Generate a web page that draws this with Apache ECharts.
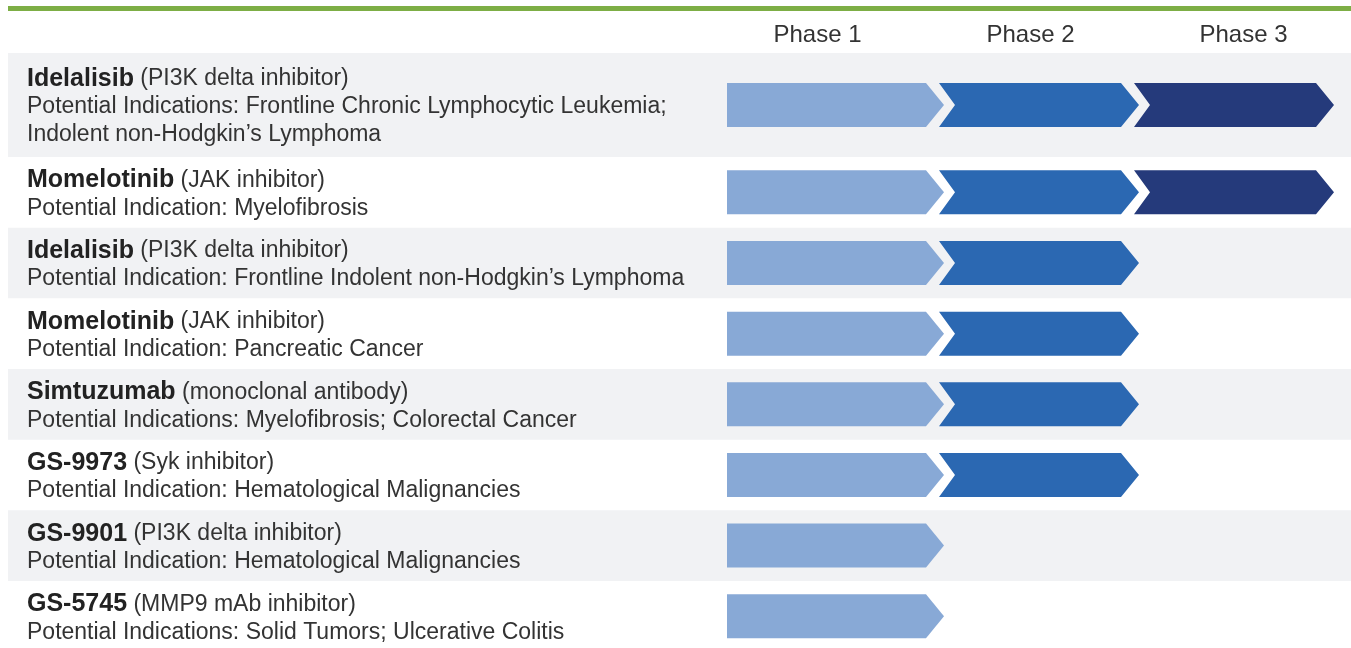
<!DOCTYPE html>
<html>
<head>
<meta charset="utf-8">
<script src="https://cdn.jsdelivr.net/npm/echarts@6/dist/echarts.min.js"></script>
<style>
  html, body { margin: 0; padding: 0; background: #fff; }
  #main { width: 1351px; height: 648px; }
</style>
</head>
<body>
<div id="main"></div>
<script>
  // pipeline data
  var phases = ['Phase 1', 'Phase 2', 'Phase 3'];
  var drugs = ['Idelalisib', 'Momelotinib', 'Idelalisib', 'Momelotinib', 'Simtuzumab', 'GS-9973', 'GS-9901', 'GS-5745'];
  var classes = ['(PI3K delta inhibitor)', '(JAK inhibitor)', '(PI3K delta inhibitor)', '(JAK inhibitor)',
    '(monoclonal antibody)', '(Syk inhibitor)', '(PI3K delta inhibitor)', '(MMP9 mAb inhibitor)'];
  var indications = [
    'Potential Indications: Frontline Chronic Lymphocytic Leukemia;\nIndolent non-Hodgkin’s Lymphoma',
    'Potential Indication: Myelofibrosis',
    'Potential Indication: Frontline Indolent non-Hodgkin’s Lymphoma',
    'Potential Indication: Pancreatic Cancer',
    'Potential Indications: Myelofibrosis; Colorectal Cancer',
    'Potential Indication: Hematological Malignancies',
    'Potential Indication: Hematological Malignancies',
    'Potential Indications: Solid Tumors; Ulcerative Colitis'
  ];
  var phaseReached = [3, 3, 2, 2, 2, 2, 1, 1];

  var phaseColors = ['#88A9D6', '#2B68B2', '#253A7B'];
  var UNIT_PX = 33.33;   // px per text line unit
  var ROW_PAD = 0.12;
  var GRID_TOP = 53, GRID_H = 595;   // visible part only, last row runs off the page

  // row extents in line units
  var rowStart = [], rowEnd = [], total = 0;
  indications.forEach(function (txt) {
    var lines = 1 + txt.split('\n').length;
    rowStart.push(total);
    total += lines + ROW_PAD;
    rowEnd.push(total);
  });
  var yMax = GRID_H / UNIT_PX;

  var bgData = [], textData = [], arrowData = [];
  drugs.forEach(function (d, i) {
    bgData.push([rowStart[i], rowEnd[i], i]);
    textData.push([0, (rowStart[i] + rowEnd[i]) / 2, i]);
    for (var p = 1; p <= phaseReached[i]; p++) {
      arrowData.push([p, (rowStart[i] + rowEnd[i]) / 2, i]);
    }
  });

  var chart = echarts.init(document.getElementById('main'));
  var FONT = '"Liberation Sans", Arial, Helvetica, sans-serif';

  chart.setOption({
    animation: false,
    graphic: [{
      type: 'rect', left: 8, top: 6,
      shape: { width: 1343, height: 5 },
      style: { fill: '#7DAE45' }
    }],
    grid: [
      { left: 749, width: 585, top: GRID_TOP, height: GRID_H },
      { left: 711, right: 1, top: GRID_TOP, height: GRID_H }
    ],
    xAxis: [
      { type: 'value', gridIndex: 0, min: 0, max: 3, show: false },
      {
        type: 'category', gridIndex: 1, position: 'top', data: phases,
        axisLine: { show: false }, axisTick: { show: false }, splitLine: { show: false },
        axisLabel: { color: '#333', fontSize: 24, fontFamily: FONT, margin: 6 }
      }
    ],
    yAxis: [
      { type: 'value', gridIndex: 0, min: 0, max: yMax, inverse: true, show: false },
      { type: 'value', gridIndex: 1, min: 0, max: yMax, inverse: true, show: false }
    ],
    series: [
      {
        // alternating row shading
        type: 'custom',
        xAxisIndex: 0, yAxisIndex: 0,
        data: bgData,
        renderItem: function (params, api) {
          if (api.value(2) % 2 === 1) return null;
          var y0 = api.coord([0, api.value(0)])[1];
          var y1 = api.coord([0, api.value(1)])[1];
          return {
            type: 'rect',
            shape: { x: 8, y: y0, width: api.getWidth() - 8, height: y1 - y0 },
            style: { fill: '#F1F2F4' }
          };
        },
        z: 1
      },
      {
        // drug names + indications
        type: 'custom',
        xAxisIndex: 0, yAxisIndex: 0,
        data: textData,
        renderItem: function (params, api) {
          var i = api.value(2);
          var yc = api.coord([0, api.value(1)])[1];
          var lines = indications[i].split('\n').map(function (l) { return '{r|' + l + '}'; });
          return {
            type: 'text',
            x: 27, y: yc + 2,
            style: {
              text: '{b|' + drugs[i] + '}{r| ' + classes[i] + '}\n' + lines.join('\n'),
              align: 'left',
              verticalAlign: 'middle',
              fill: '#2b2b2b',
              fontFamily: FONT,
              rich: {
                b: { fontSize: 25, fontWeight: 'bold', fontFamily: FONT, lineHeight: 28, fill: '#222' },
                r: { fontSize: 23, fontFamily: FONT, lineHeight: 28, fill: '#333' }
              }
            }
          };
        },
        z: 3
      },
      {
        // phase chevrons
        type: 'custom',
        xAxisIndex: 0, yAxisIndex: 0,
        data: arrowData,
        renderItem: function (params, api) {
          var p = api.value(0);
          var c = api.coord([p, api.value(1)]);
          var tipX = c[0], yc = c[1];
          var len = 200, tip = 18, half = 22, notch = 16;
          var corner = tipX - len;
          var pts;
          if (p === 1) {
            var left = corner - tip + 1;
            pts = [[left, yc - half], [tipX - tip, yc - half], [tipX, yc],
              [tipX - tip, yc + half], [left, yc + half]];
          } else {
            pts = [[corner, yc - half], [tipX - tip, yc - half], [tipX, yc],
              [tipX - tip, yc + half], [corner, yc + half], [corner + notch, yc]];
          }
          return {
            type: 'polygon',
            shape: { points: pts },
            style: { fill: phaseColors[p - 1] }
          };
        },
        z: 2
      }
    ]
  });
</script>
</body>
</html>
